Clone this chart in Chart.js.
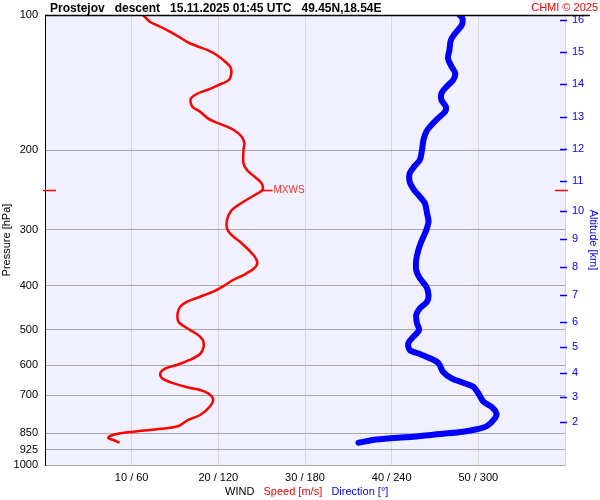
<!DOCTYPE html>
<html>
<head>
<meta charset="utf-8">
<script src="https://cdn.jsdelivr.net/npm/chart.js@4.4.1/dist/chart.umd.min.js"></script>
<style>
  body { margin:0; background:#fff; font-family: Arial, "Liberation Sans", sans-serif; }
  #wrap { position:relative; width:600px; height:500px; }
  #wrap canvas { position:absolute; left:0; top:0; }
  .txt { position:absolute; white-space:pre; line-height:1; }
</style>
</head>
<body>
<div id="wrap">
  <canvas id="sonde" width="600" height="500"></canvas>
  <div class="txt" style="left:50px;top:2px;font-weight:bold;font-size:12px;color:#000">Prostejov   descent   15.11.2025 01:45 UTC   49.45N,18.54E</div>
  <div class="txt" style="right:2px;top:2px;font-size:11px;color:#ff0000">CHMI © 2025</div>
  <div class="txt" style="left:225px;top:486px;font-size:11px"><span style="color:#000">WIND</span>   <span style="color:#ff0000">Speed [m/s]</span>   <span style="color:#0000ff">Direction [°]</span></div>
</div>
<script>
// pressure levels on the left axis
const pressureTicks = [100, 200, 300, 400, 500, 600, 700, 850, 925, 1000];
// altitude axis (km) and the pressure where each tick sits
const altKm  = [16, 15, 14, 13, 12, 11, 10, 9, 8, 7, 6, 5, 4, 3, 2];
const altHpa = [102.6, 120.9, 142.3, 168.5, 198.6, 233.8, 272.6, 314.6, 363, 419, 481, 547, 625, 706, 802];

// wind speed profile [m/s]
const speedHpa = [100, 103.5, 106.2, 108.9, 111.7, 115.0, 117.2, 119.6, 122.7, 127.0, 130.7, 134.8, 139.5, 143.1,
  146.8, 149.8, 153.9, 159.9, 164.0, 169.7, 173.5, 177.1, 180.8, 186.4, 192.8, 199.5, 213.6, 221.1, 228.8, 236.6,
  244.8, 251.2, 260.0, 264.4, 273.6, 285.5, 297.9, 308.2, 319.0, 332.8, 344.4, 356.3, 367.4, 378.3, 388.1, 398.1,
  410.1, 422.7, 433.6, 444.9, 460.2, 480.4, 496.9, 511.6, 527.5, 545.9, 566.7, 584.3, 599.5, 609.7, 625.5, 641.7,
  656.3, 672.0, 681.3, 692.9, 714.5, 742.1, 774.3, 794.3, 819.1, 828.8, 836.0, 843.3, 850.3, 862.1, 872.3, 880.0, 892.2];
const speedMs = [11.3, 12.1, 13.3, 14.4, 15.4, 16.5, 17.5, 18.7, 19.8, 20.8, 21.4, 21.5, 21.2, 20.0,
  18.7, 17.5, 16.8, 17.0, 17.9, 18.8, 19.8, 21.0, 21.9, 22.7, 23.0, 22.9, 22.9, 23.3, 24.2, 25.0,
  25.1, 24.2, 22.9, 22.3, 21.4, 21.0, 21.0, 21.5, 22.5, 23.5, 24.2, 24.5, 24.0, 22.9, 21.7, 20.8,
  19.6, 17.9, 16.4, 15.6, 15.3, 15.4, 16.4, 17.5, 18.2, 18.3, 17.9, 16.7, 15.2, 13.9, 13.3, 13.5,
  14.6, 16.4, 17.9, 18.8, 19.4, 19.0, 17.9, 16.5, 15.4, 14.0, 12.1, 10.2, 8.7, 7.5, 7.3, 7.9, 8.6];

// wind direction profile [deg]
const dirHpa = [100, 101.7, 105.3, 109.8, 113.6, 119.6, 124.8, 130.3, 134.8, 139.5, 144.3, 149.3, 154.5, 159.9,
  164.0, 169.7, 175.6, 181.7, 189.6, 199.5, 210.0, 217.3, 224.8, 234.7, 244.8, 253.3, 262.1, 275.9, 288.0, 300.5,
  316.2, 332.8, 350.3, 368.8, 384.7, 401.6, 419.1, 433.6, 448.5, 464.2, 484.3, 501.2, 518.7, 536.5, 555.2, 566.7,
  579.2, 594.3, 620.4, 641.7, 656.3, 669.9, 692.9, 723.3, 744.4, 767.6, 787.5, 819.1, 833.0, 843.3, 853.3, 865.2,
  872.3, 880.0, 892.2];
const dirDeg = [287, 289, 288.5, 284, 281, 280, 279, 281.5, 284, 282.5, 278, 274.5, 274.5, 277.5,
  277, 272, 267.5, 264, 262, 261, 259.5, 255.5, 252.5, 252.5, 255.5, 259.5, 263, 264.5, 265.5, 264,
  261, 258.5, 257, 257, 259.5, 264, 265.5, 264.5, 259.5, 257, 257.5, 259, 255, 251.5, 252.5, 259.5,
  266.5, 272.5, 275.5, 281.5, 289.5, 296.5, 300, 303.5, 309.5, 312.5, 311.5, 306, 299, 289.5, 273.5, 255,
  239, 227, 217];

const FONT = 'Arial, "Liberation Sans", sans-serif';

const sondeExtras = {
  id: 'sondeExtras',
  beforeDraw(chart) {
    const { ctx, chartArea: a } = chart;
    ctx.save();
    ctx.fillStyle = '#f0f0ff';
    ctx.fillRect(a.left, a.top, a.right - a.left, a.bottom - a.top);
    ctx.restore();
  },
  afterDraw(chart) {
    const { ctx, chartArea: a, scales } = chart;
    ctx.save();
    // black line along the top
    ctx.strokeStyle = '#000';
    ctx.lineWidth = 1.5;
    ctx.beginPath(); ctx.moveTo(a.left, a.top + 0.5); ctx.lineTo(590, a.top + 0.5); ctx.stroke();

    // altitude tick marks (sit on the inside of the right edge)
    ctx.strokeStyle = '#0000ff';
    ctx.lineWidth = 1.5;
    altHpa.forEach(p => {
      const y = Math.round(scales.y2.getPixelForValue(p)) + 0.5;
      ctx.beginPath(); ctx.moveTo(a.right - 5, y); ctx.lineTo(a.right + 2, y); ctx.stroke();
    });

    // max wind marker
    let iMax = 0;
    speedMs.forEach((v, i) => { if (v > speedMs[iMax]) iMax = i; });
    const mx = scales.x.getPixelForValue(speedMs[iMax]);
    const my = Math.round(scales.y.getPixelForValue(speedHpa[iMax])) + 0.5;
    ctx.strokeStyle = '#ff0000';
    ctx.lineWidth = 1.5;
    ctx.beginPath(); ctx.moveTo(mx, my); ctx.lineTo(mx + 10, my); ctx.stroke();
    ctx.beginPath(); ctx.moveTo(a.left - 2, my); ctx.lineTo(a.left + 11, my); ctx.stroke();
    ctx.beginPath(); ctx.moveTo(a.right - 10, my); ctx.lineTo(a.right + 3, my); ctx.stroke();
    ctx.fillStyle = '#ff3030';
    ctx.font = '10px ' + FONT;
    ctx.textBaseline = 'middle';
    ctx.fillText('MXWS', mx + 11, my);
    ctx.restore();
  }
};

new Chart(document.getElementById('sonde'), {
  type: 'scatter',
  data: {
    datasets: [
      { label: 'Direction', xAxisID: 'x2', yAxisID: 'y',
        data: dirHpa.map((p, i) => ({ x: dirDeg[i], y: p })),
        showLine: true, borderColor: '#0000ff', borderWidth: 6, pointRadius: 0,
        borderCapStyle: 'round', borderJoinStyle: 'round', tension: 0.3 },
      { label: 'Speed', xAxisID: 'x', yAxisID: 'y',
        data: speedHpa.map((p, i) => ({ x: speedMs[i], y: p })),
        showLine: true, borderColor: '#ff0000', borderWidth: 2.5, pointRadius: 0,
        borderJoinStyle: 'round', tension: 0.3 }
    ]
  },
  options: {
    responsive: false,
    animation: false,
    layout: { padding: { top: 15, left: 0, right: 0, bottom: 0 } },
    plugins: { legend: { display: false }, tooltip: { enabled: false } },
    scales: {
      x: {
        type: 'linear', position: 'bottom', min: 0, max: 60,
        afterBuildTicks: s => { s.ticks = [0, 10, 20, 30, 40, 50, 60].map(v => ({ value: v })); },
        afterFit: s => { s.height = 35; },
        border: { display: false },
        grid: { color: c => (c.tick && (c.tick.value === 0 || c.tick.value === 60)) ? 'rgba(0,0,0,0)' : '#d8d8d8',
                drawTicks: false },
        ticks: { color: '#000', font: { size: 11, family: FONT }, padding: 6, maxRotation: 0,
                 callback: v => (v === 0 || v === 60) ? '' : v + ' / ' + v * 6 }
      },
      x2: { type: 'linear', min: 0, max: 360, display: false },
      y: {
        type: 'logarithmic', position: 'left', min: 100, max: 1000, reverse: true,
        afterBuildTicks: s => { s.ticks = pressureTicks.map(v => ({ value: v })); },
        afterFit: s => { s.width = 45; },
        border: { color: '#000', width: 1 },
        grid: { color: c => (c.tick && c.tick.value === 100) ? 'rgba(0,0,0,0)' : '#a8a8a8', drawTicks: false },
        ticks: { color: '#000', font: { size: 11, family: FONT }, padding: 7, autoSkip: false,
                 callback: v => String(v) },
        title: { display: true, text: 'Pressure [hPa]', color: '#000', font: { size: 11, family: FONT }, padding: 0 }
      },
      y2: {
        type: 'logarithmic', position: 'right', min: 100, max: 1000, reverse: true,
        afterBuildTicks: s => { s.ticks = altHpa.map(v => ({ value: v })); },
        afterFit: s => { s.width = 35; },
        border: { color: '#d4d4d4', width: 1 },
        grid: { drawOnChartArea: false, drawTicks: false },
        ticks: { color: '#0000ff', font: { size: 11, family: FONT }, padding: 7, autoSkip: false,
                 callback: (v, i) => String(altKm[i]) },
        title: { display: true, text: 'Altitude [km]', color: '#0000ff', font: { size: 11, family: FONT }, padding: 0 }
      }
    }
  },
  plugins: [sondeExtras]
});
</script>
</body>
</html>
